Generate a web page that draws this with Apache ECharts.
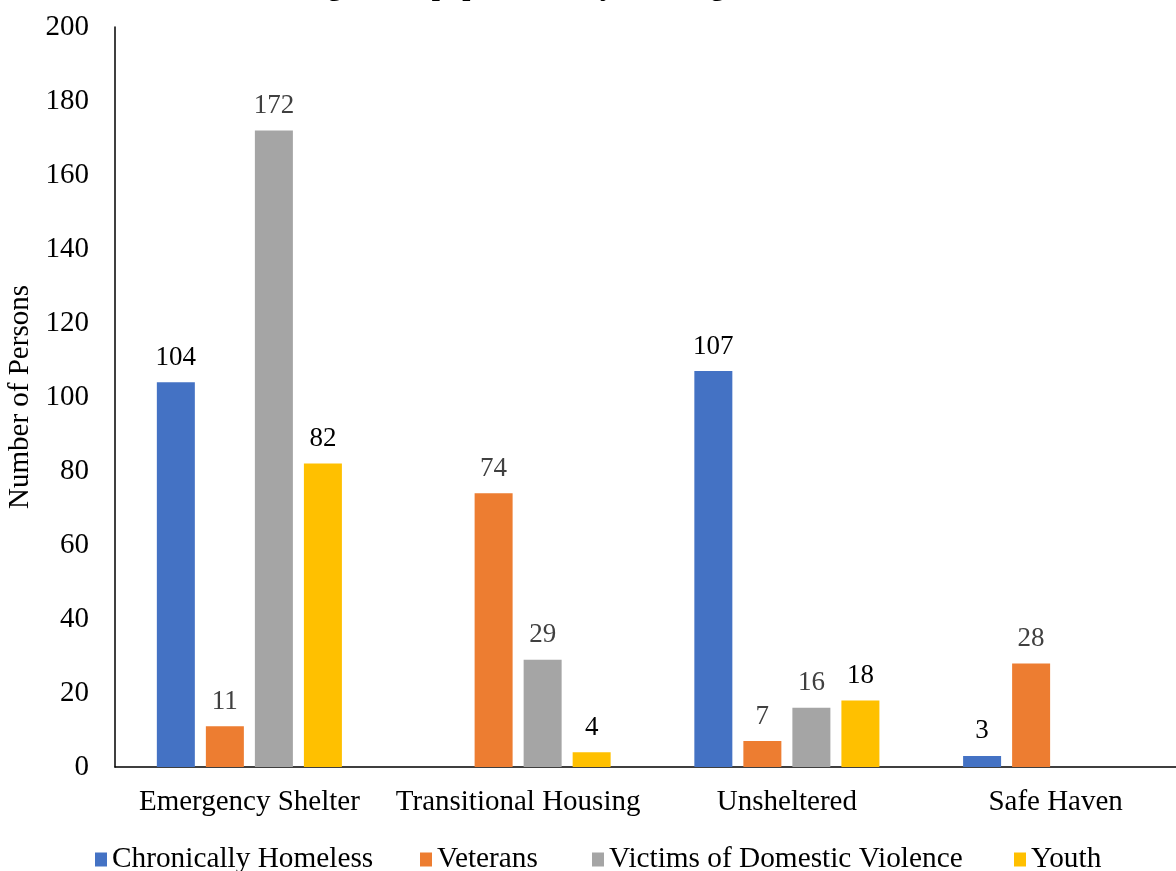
<!DOCTYPE html>
<html>
<head>
<meta charset="utf-8">
<script src="https://cdn.jsdelivr.net/npm/echarts@6/dist/echarts.min.js"></script>
<style>
html,body{margin:0;padding:0;background:#fff;}
#chart{width:1176px;height:871px;}
</style>
</head>
<body>
<div id="chart"></div>
<script>
var categories = ['Emergency Shelter', 'Transitional Housing', 'Unsheltered', 'Safe Haven'];
var seriesNames = ['Chronically Homeless', 'Veterans', 'Victims of Domestic Violence', 'Youth'];
var chronicallyHomeless = [104, null, 107, 3];
var veterans = [11, 74, 7, 28];
var victimsDV = [172, 29, 16, null];
var youth = [82, 4, 18, null];
var yTicks = [0, 20, 40, 60, 80, 100, 120, 140, 160, 180, 200];

var seriesData = [chronicallyHomeless, veterans, victimsDV, youth];
var colors = ['#4472C4', '#ED7D31', '#A5A5A5', '#FFC000'];
var labelColors = ['#000000', '#404040', '#404040', '#000000'];
var legendLefts = [95, 420, 592, 1014];
var FONT = '"Liberation Serif", "Times New Roman", serif';

var chart = echarts.init(document.getElementById('chart'));
var series = seriesData.map(function (d, i) {
  return {
    name: seriesNames[i],
    type: 'bar',
    data: d,
    barWidth: 38,
    barGap: '29%',
    itemStyle: { color: colors[i] },
    label: {
      show: true,
      position: 'top',
      distance: 11,
      color: labelColors[i],
      fontFamily: FONT,
      fontSize: 27
    }
  };
});

var legends = seriesNames.map(function (n, i) {
  return {
    data: [n],
    left: legendLefts[i],
    top: 845,
    padding: 0,
    icon: 'rect',
    itemWidth: 12,
    itemHeight: 14,
    textStyle: { fontFamily: FONT, fontSize: 29.3, color: '#000' }
  };
});

chart.setOption({
  animation: false,
  backgroundColor: '#ffffff',
  title: {
    text: 'Largest Subpopulations by Housing Status',
    left: 276,
    top: -32,
    textStyle: { fontFamily: FONT, fontSize: 29, fontWeight: 'bold', color: '#000' }
  },
  legend: legends,
  grid: { left: 115, right: -14, top: 27, bottom: 104, containLabel: false, outerBoundsMode: 'none' },
  xAxis: {
    type: 'category',
    data: categories,
    axisLine: { lineStyle: { color: '#000', width: 1.5 } },
    axisTick: { show: false },
    axisLabel: { fontFamily: FONT, fontSize: 29, color: '#000', margin: 21, interval: 0 }
  },
  yAxis: {
    type: 'value',
    min: yTicks[0],
    max: yTicks[yTicks.length - 1],
    interval: yTicks[1] - yTicks[0],
    name: 'Number of Persons',
    nameLocation: 'middle',
    nameRotate: 90,
    nameGap: 80,
    nameTextStyle: { fontFamily: FONT, fontSize: 29, color: '#000' },
    axisLine: { show: true, lineStyle: { color: '#000', width: 1.5 } },
    axisTick: { show: false },
    splitLine: { show: false },
    axisLabel: { fontFamily: FONT, fontSize: 29, color: '#000', margin: 26 }
  },
  series: series
});
</script>
</body>
</html>
